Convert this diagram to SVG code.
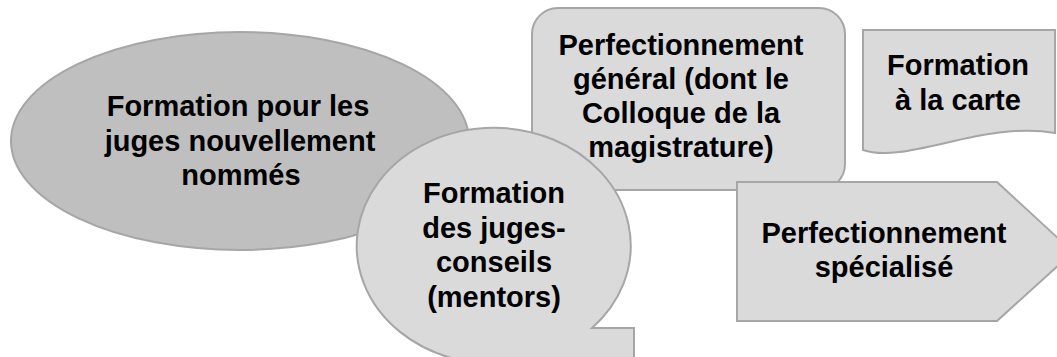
<svg xmlns="http://www.w3.org/2000/svg" width="1057" height="357" viewBox="0 0 1057 357">
<style>
.s{stroke:#a6a6a6;stroke-width:2;}
.dark{fill:#bfbfbf;}
.light{fill:#dadada;}
text{font-family:"Liberation Sans",Arial,sans-serif;font-weight:bold;font-size:29px;fill:#000;text-anchor:middle;}
</style>
<rect width="1057" height="357" fill="#ffffff"/>
<g id="node-juges-nouveaux">
<ellipse class="s dark" cx="240" cy="141" rx="229" ry="109"/>
<text x="238" y="116">Formation pour les</text>
<text x="240" y="150.5">juges nouvellement</text>
<text x="241" y="185">nommés</text>
</g>
<g id="node-perfectionnement-general">
<rect class="s light" x="532" y="8" width="313" height="182" rx="26" ry="26"/>
<text x="681" y="55">Perfectionnement</text>
<text x="681" y="89">général (dont le</text>
<text x="681" y="123">Colloque de la</text>
<text x="681" y="157">magistrature)</text>
</g>
<g id="node-juges-conseils">
<path class="s light" d="M592,328 L634,328 L634,420 L520,420 L520,361.6 A137,118 0 1 1 592,328 Z"/>
<text x="494" y="203">Formation</text>
<text x="494" y="237.5">des juges-</text>
<text x="494" y="272">conseils</text>
<text x="494" y="306.5">(mentors)</text>
</g>
<g id="node-a-la-carte">
<path class="s light" d="M863,30 L1055,30 L1055,133 C985,120 905,165 863,150 Z"/>
<text x="958" y="75">Formation</text>
<text x="958" y="110">à la carte</text>
</g>
<g id="node-perfectionnement-specialise">
<path class="s light" d="M737,182 L997,182 L1073,252 L997,321 L737,321 Z"/>
<text x="884" y="243">Perfectionnement</text>
<text x="884" y="277">spécialisé</text>
</g>
<g id="connectors"></g>
</svg>
